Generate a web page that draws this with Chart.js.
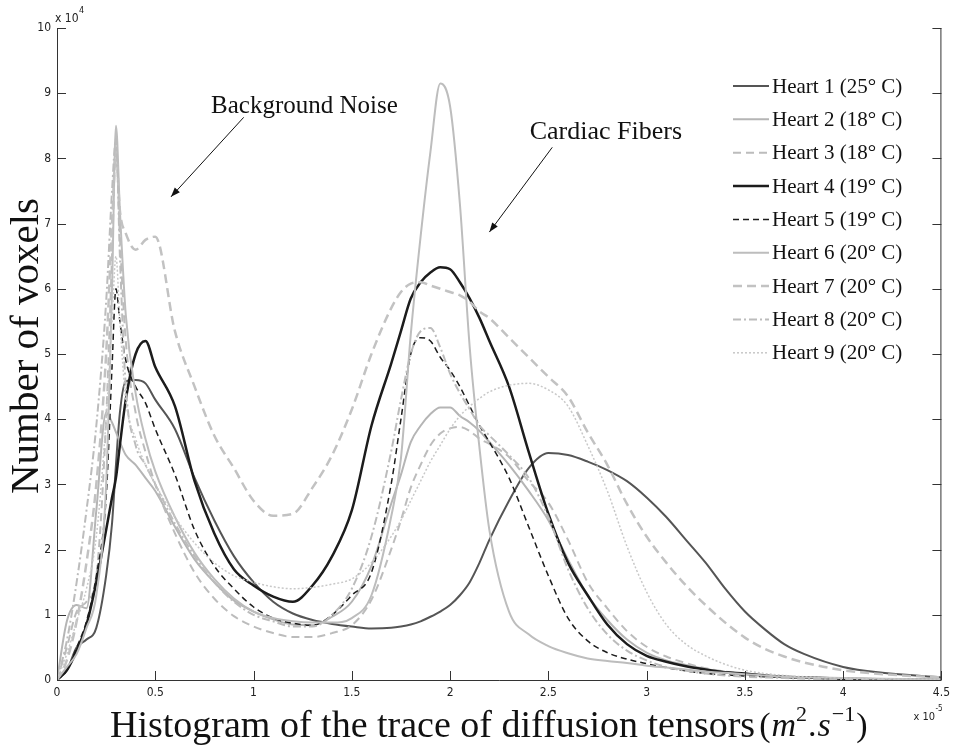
<!DOCTYPE html>
<html>
<head>
<meta charset="utf-8">
<script src="https://cdn.jsdelivr.net/npm/chart.js@4.4.0/dist/chart.umd.min.js"></script>
<style>
  html, body { margin: 0; padding: 0; background: #fff; }
  #wrap { width: 956px; height: 747px; }
</style>
</head>
<body>
<div id="wrap"><canvas id="myChart" width="956" height="747"></canvas></div>
<script>
// trace values (x10^-5 m^2/s) shared by every curve
const xs = [0, 0.05, 0.1, 0.15, 0.2, 0.25, 0.28, 0.3, 0.32, 0.35,
  0.4, 0.45, 0.5, 0.6, 0.7, 0.8, 0.9, 1.0, 1.1, 1.2,
  1.3, 1.4, 1.5, 1.6, 1.7, 1.75, 1.8, 1.85, 1.9, 1.95,
  2.0, 2.05, 2.1, 2.15, 2.2, 2.3, 2.4, 2.5, 2.6, 2.7,
  2.8, 2.9, 3.0, 3.1, 3.2, 3.3, 3.4, 3.5, 3.6, 3.7,
  3.8, 4.0, 4.2, 4.5];

// number of voxels (x10^4), one array per heart
const heart1 = [0, 0.15, 0.5, 0.62, 0.8, 1.6, 2.4, 3.3, 4.1, 4.58,
  4.6, 4.55, 4.3, 3.85, 3.1, 2.45, 1.9, 1.5, 1.2, 1.02,
  0.92, 0.86, 0.82, 0.79, 0.8, 0.82, 0.85, 0.9, 0.97, 1.05,
  1.15, 1.3, 1.5, 1.8, 2.15, 2.75, 3.25, 3.48, 3.45, 3.35,
  3.22, 3.05, 2.8, 2.5, 2.15, 1.8, 1.4, 1.05, 0.78, 0.55,
  0.4, 0.2, 0.11, 0.04];
const heart2 = [0, 0.9, 1.15, 1.1, 2.6, 4.1, 3.95, 3.8, 3.65, 3.45,
  3.3, 3.1, 2.9, 2.35, 1.85, 1.5, 1.22, 1.05, 0.93, 0.85,
  0.84, 0.97, 1.2, 1.75, 2.7, 3.15, 3.65, 3.9, 4.08, 4.18,
  4.18, 4.05, 3.95, 3.82, 3.65, 3.3, 2.9, 2.45, 1.85, 1.3,
  0.92, 0.62, 0.42, 0.3, 0.23, 0.17, 0.12, 0.09, 0.07, 0.05,
  0.04, 0.02, 0.01, 0];
const heart3 = [0, 0.5, 1.05, 1.2, 1.6, 4.0, 6.5, 8.2, 6.8, 5.2,
  4.1, 3.5, 3.0, 2.25, 1.65, 1.25, 0.98, 0.82, 0.72, 0.66,
  0.66, 0.72, 0.84, 1.23, 2.0, 2.45, 2.95, 3.3, 3.6, 3.78,
  3.86, 3.88, 3.82, 3.7, 3.62, 3.42, 3.05, 2.72, 2.15, 1.5,
  1.1, 0.75, 0.51, 0.36, 0.26, 0.18, 0.13, 0.09, 0.06, 0.04,
  0.03, 0.02, 0.01, 0];
const heart4 = [0, 0.15, 0.45, 0.85, 1.5, 2.3, 2.8, 3.1, 3.6, 4.3,
  5.0, 5.2, 4.8, 4.2, 3.05, 2.25, 1.7, 1.45, 1.28, 1.2,
  1.45, 1.9, 2.6, 3.9, 4.85, 5.35, 5.85, 6.1, 6.25, 6.33,
  6.3, 6.1, 5.85, 5.55, 5.2, 4.5, 3.5, 2.55, 1.8, 1.3,
  0.85, 0.55, 0.37, 0.28, 0.21, 0.16, 0.12, 0.1, 0.07, 0.05,
  0.04, 0.02, 0.01, 0];
const heart5 = [0, 0.15, 0.5, 0.9, 1.6, 2.8, 4.8, 6.0, 5.5, 4.9,
  4.5, 4.25, 3.85, 3.15, 2.3, 1.75, 1.4, 1.12, 0.95, 0.87,
  0.84, 1.0, 1.3, 1.65, 3.0, 4.0, 5.0, 5.25, 5.2, 4.95,
  4.75, 4.5, 4.2, 3.9, 3.65, 3.1, 2.35, 1.6, 0.95, 0.6,
  0.42, 0.32, 0.25, 0.19, 0.14, 0.1, 0.08, 0.06, 0.05, 0.04,
  0.03, 0.02, 0.01, 0];
const heart6 = [0, 0.2, 0.4, 0.8, 1.3, 3.0, 6.0, 8.5, 7.2, 5.6,
  4.4, 3.7, 3.2, 2.5, 1.95, 1.55, 1.25, 1.05, 0.95, 0.9,
  0.88, 0.88, 0.95, 1.3, 2.5, 3.4, 5.3, 6.8, 8.1, 9.15,
  8.8, 7.3, 5.1, 3.55, 2.3, 1.05, 0.7, 0.52, 0.41, 0.33,
  0.29, 0.26, 0.22, 0.19, 0.16, 0.13, 0.11, 0.09, 0.07, 0.05,
  0.04, 0.03, 0.02, 0.01];
const heart7 = [0, 0.3, 0.9, 1.8, 3.0, 5.0, 7.0, 8.1, 7.2, 6.85,
  6.6, 6.75, 6.8, 5.35, 4.5, 3.75, 3.25, 2.75, 2.52, 2.55,
  2.95, 3.45, 4.15, 5.0, 5.7, 5.95, 6.08, 6.1, 6.05, 6.0,
  5.95, 5.9, 5.8, 5.65, 5.55, 5.25, 4.95, 4.65, 4.35, 3.8,
  3.3, 2.7, 2.2, 1.8, 1.45, 1.15, 0.88, 0.65, 0.48, 0.36,
  0.27, 0.15, 0.09, 0.04];
const heart8 = [0, 0.6, 1.5, 2.6, 3.9, 5.8, 7.5, 8.3, 6.5, 4.5,
  3.6, 3.3, 3.0, 2.4, 1.9, 1.5, 1.2, 1.0, 0.9, 0.82,
  0.82, 1.0, 1.4, 2.2, 3.5, 4.3, 5.0, 5.35, 5.4, 5.1,
  4.7, 4.4, 4.15, 3.9, 3.75, 3.45, 3.1, 2.5, 1.7, 1.1,
  0.7, 0.45, 0.3, 0.2, 0.14, 0.1, 0.07, 0.05, 0.04, 0.03,
  0.02, 0.01, 0.01, 0];
const heart9 = [0, 0.4, 0.9, 1.4, 2.2, 4.0, 5.5, 6.5, 5.5, 4.3,
  3.7, 3.3, 3.0, 2.5, 2.1, 1.8, 1.6, 1.5, 1.43, 1.4,
  1.42, 1.47, 1.55, 1.8, 2.2, 2.45, 2.75, 3.05, 3.35, 3.6,
  3.85, 4.05, 4.2, 4.32, 4.42, 4.52, 4.55, 4.45, 4.2, 3.6,
  2.9, 2.05, 1.35, 0.85, 0.55, 0.37, 0.24, 0.15, 0.1, 0.07,
  0.05, 0.03, 0.02, 0.01];

const heartNames = ["Heart 1", "Heart 2", "Heart 3", "Heart 4", "Heart 5",
  "Heart 6", "Heart 7", "Heart 8", "Heart 9"];
const heartTemps = [25, 18, 18, 19, 19, 20, 20, 20, 20];
const allHearts = [heart1, heart2, heart3, heart4, heart5, heart6, heart7, heart8, heart9];

// line styles, same order as the hearts (matlab-ish greys)
const styles = [
  { color: "#555555", width: 2, dash: [] },
  { color: "#b5b5b5", width: 2, dash: [] },
  { color: "#bcbcbc", width: 2, dash: [8, 5] },
  { color: "#1c1c1c", width: 2.5, dash: [] },
  { color: "#1c1c1c", width: 1.5, dash: [6, 4] },
  { color: "#bdbdbd", width: 2, dash: [] },
  { color: "#c2c2c2", width: 2.5, dash: [9, 5] },
  { color: "#bcbcbc", width: 2, dash: [8, 3, 2, 3] },
  { color: "#c8c8c8", width: 1.5, dash: [2, 2] }
];

const serif = "'Liberation Serif', 'Times New Roman', serif";
const tickFont = "'Liberation Sans Narrow', 'DejaVu Sans Condensed', 'Liberation Sans', sans-serif";

var datasets = allHearts.map(function (ys, i) {
  return {
    label: heartNames[i] + " (" + heartTemps[i] + "\u00b0 C)",
    data: xs.map(function (x, k) { return { x: x, y: ys[k] }; }),
    borderColor: styles[i].color,
    borderWidth: styles[i].width,
    borderDash: styles[i].dash,
    pointRadius: 0,
    fill: false,
    cubicInterpolationMode: "monotone",
    order: 9 - i // later hearts on top, like matlab
  };
});

// draws the frame, inner ticks, titles, arrows and legend
const decorations = {
  id: "decorations",
  afterDraw(chart) {
    const ctx = chart.ctx;
    const a = chart.chartArea;
    const sx = chart.scales.x, sy = chart.scales.y;
    ctx.save();

    // frame
    ctx.strokeStyle = "#333";
    ctx.lineWidth = 1;
    ctx.beginPath();
    ctx.moveTo(a.left + 0.5, a.top);
    ctx.lineTo(a.left + 0.5, a.bottom + 0.5);
    ctx.lineTo(a.right - 0.5, a.bottom + 0.5);
    ctx.lineTo(a.right - 0.5, a.top);
    ctx.stroke();

    // ticks pointing inward
    ctx.beginPath();
    sx.ticks.forEach(function (t) {
      var px = Math.round(sx.getPixelForValue(t.value)) + 0.5;
      ctx.moveTo(px, a.bottom);
      ctx.lineTo(px, a.bottom - 9);
    });
    sy.ticks.forEach(function (t) {
      var py = Math.round(sy.getPixelForValue(t.value)) + 0.5;
      ctx.moveTo(a.left, py);
      ctx.lineTo(a.left + 9, py);
      ctx.moveTo(a.right, py);
      ctx.lineTo(a.right - 9, py);
    });
    ctx.stroke();

    // exponent labels
    ctx.fillStyle = "#222";
    ctx.textBaseline = "alphabetic";
    ctx.textAlign = "left";
    ctx.font = "12px " + tickFont;
    ctx.fillText("x 10", a.left - 2, a.top - 6);
    ctx.font = "9px " + tickFont;
    ctx.fillText("4", a.left + 22, a.top - 15);
    ctx.font = "11px " + tickFont;
    ctx.fillText("x 10", a.right - 28, a.bottom + 40);
    ctx.font = "8px " + tickFont;
    ctx.fillText("-5", a.right - 6, a.bottom + 31);

    // y title
    ctx.fillStyle = "#111";
    ctx.save();
    ctx.translate(38, (a.top + a.bottom) / 2 - 8);
    ctx.rotate(-Math.PI / 2);
    ctx.textAlign = "center";
    ctx.font = "41px " + serif;
    ctx.fillText("Number of voxels", 0, 0);
    ctx.restore();

    // x title
    var base = 737;
    ctx.textAlign = "left";
    ctx.font = "38px " + serif;
    var main = "Histogram of the trace of diffusion tensors";
    ctx.fillText(main, 110, base);
    var cx = 110 + ctx.measureText(main).width + 4;
    function piece(txt, font, dy, gap) {
      ctx.font = font;
      ctx.fillText(txt, cx, base + dy);
      cx += ctx.measureText(txt).width + (gap || 0);
    }
    piece("(", "34px " + serif, -1, 1);
    piece("m", "italic 34px " + serif, -1, 0);
    piece("2", "22px " + serif, -16, 1);
    piece(".", "34px " + serif, -1, 1);
    piece("s", "italic 34px " + serif, -1, 1);
    piece("\u22121", "22px " + serif, -16, 1);
    piece(")", "34px " + serif, -1, 0);

    // annotations with arrows
    function arrow(x0, y0, x1, y1) {
      var p0x = sx.getPixelForValue(x0), p0y = sy.getPixelForValue(y0);
      var p1x = sx.getPixelForValue(x1), p1y = sy.getPixelForValue(y1);
      ctx.strokeStyle = "#111";
      ctx.lineWidth = 1;
      ctx.beginPath();
      ctx.moveTo(p0x, p0y);
      ctx.lineTo(p1x, p1y);
      ctx.stroke();
      var ang = Math.atan2(p1y - p0y, p1x - p0x);
      ctx.fillStyle = "#111";
      ctx.beginPath();
      ctx.moveTo(p1x, p1y);
      ctx.lineTo(p1x - 10 * Math.cos(ang - 0.35), p1y - 10 * Math.sin(ang - 0.35));
      ctx.lineTo(p1x - 10 * Math.cos(ang + 0.35), p1y - 10 * Math.sin(ang + 0.35));
      ctx.closePath();
      ctx.fill();
    }
    ctx.fillStyle = "#111";
    ctx.textBaseline = "middle";
    ctx.font = "25px " + serif;
    ctx.fillText("Background Noise", sx.getPixelForValue(0.784), sy.getPixelForValue(8.8));
    ctx.font = "26px " + serif;
    ctx.fillText("Cardiac Fibers", sx.getPixelForValue(2.405), sy.getPixelForValue(8.4));
    arrow(0.95, 8.63, 0.58, 7.41);
    arrow(2.52, 8.17, 2.2, 6.87);

    // legend
    ctx.font = "21px " + serif;
    ctx.textBaseline = "middle";
    datasets.forEach(function (d, i) {
      var ly = 86 + i * 33.35;
      ctx.strokeStyle = d.borderColor;
      ctx.lineWidth = d.borderWidth;
      ctx.setLineDash(d.borderDash);
      ctx.beginPath();
      ctx.moveTo(733, ly);
      ctx.lineTo(769, ly);
      ctx.stroke();
      ctx.setLineDash([]);
      ctx.fillStyle = "#111";
      ctx.fillText(d.label, 772, ly + 1);
    });

    ctx.restore();
  }
};

const ctx = document.getElementById("myChart").getContext("2d");
const myChart = new Chart(ctx, {
  type: "line",
  data: { datasets: datasets },
  options: {
    responsive: false,
    animation: false,
    devicePixelRatio: 1,
    layout: { padding: { top: 28, right: 9, left: 0, bottom: 0 } },
    plugins: { legend: { display: false }, tooltip: { enabled: false } },
    scales: {
      x: {
        type: "linear",
        min: 0,
        max: 4.5,
        afterFit: function (s) { s.height = 67; },
        grid: { display: false, drawTicks: false },
        border: { display: false },
        ticks: {
          stepSize: 0.5,
          padding: 6,
          maxRotation: 0,
          autoSkip: false,
          color: "#222",
          font: { family: tickFont, size: 12 },
          callback: function (v) { return String(v); }
        }
      },
      y: {
        type: "linear",
        min: 0,
        max: 10,
        afterFit: function (s) { s.width = 57; },
        grid: { display: false, drawTicks: false },
        border: { display: false },
        ticks: {
          stepSize: 1,
          padding: 6,
          color: "#222",
          font: { family: tickFont, size: 12 },
          callback: function (v) { return String(v); }
        }
      }
    }
  },
  plugins: [decorations]
});
</script>
</body>
</html>
